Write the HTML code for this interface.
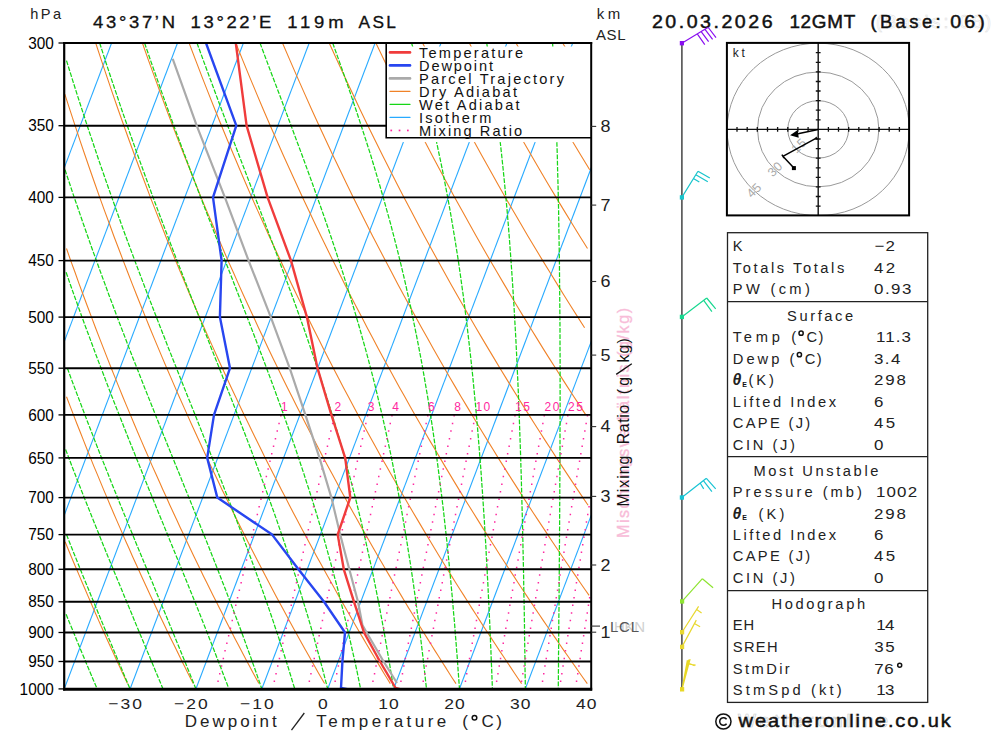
<!DOCTYPE html>
<html><head><meta charset="utf-8"><title>Skew-T</title>
<style>
html,body{margin:0;padding:0;background:#fff;}
body{width:1000px;height:733px;overflow:hidden;font-family:"Liberation Sans",sans-serif;}
svg{display:block;font-family:"Liberation Sans",sans-serif;}
</style></head><body>
<svg width="1000" height="733" viewBox="0 0 1000 733">
<rect width="1000" height="733" fill="#fff"/>
<defs><clipPath id="cp"><rect x="64.2" y="43.0" width="527.0" height="646.0"/></clipPath></defs>
<g clip-path="url(#cp)">
<polyline points="-462.8,689.0 -217.8,43.0" fill="none" stroke="#28aaff" stroke-width="1.1" />
<polyline points="-396.9,689.0 -151.9,43.0" fill="none" stroke="#28aaff" stroke-width="1.1" />
<polyline points="-331.1,689.0 -86.0,43.0" fill="none" stroke="#28aaff" stroke-width="1.1" />
<polyline points="-265.2,689.0 -20.1,43.0" fill="none" stroke="#28aaff" stroke-width="1.1" />
<polyline points="-199.3,689.0 45.7,43.0" fill="none" stroke="#28aaff" stroke-width="1.1" />
<polyline points="-133.4,689.0 111.6,43.0" fill="none" stroke="#28aaff" stroke-width="1.1" />
<polyline points="-67.5,689.0 177.5,43.0" fill="none" stroke="#28aaff" stroke-width="1.1" />
<polyline points="-1.7,689.0 243.4,43.0" fill="none" stroke="#28aaff" stroke-width="1.1" />
<polyline points="64.2,689.0 309.2,43.0" fill="none" stroke="#28aaff" stroke-width="1.1" />
<polyline points="130.1,689.0 375.1,43.0" fill="none" stroke="#28aaff" stroke-width="1.1" />
<polyline points="195.9,689.0 441.0,43.0" fill="none" stroke="#28aaff" stroke-width="1.1" />
<polyline points="261.8,689.0 506.9,43.0" fill="none" stroke="#28aaff" stroke-width="1.1" />
<polyline points="327.7,689.0 572.7,43.0" fill="none" stroke="#28aaff" stroke-width="1.1" />
<polyline points="393.6,689.0 638.6,43.0" fill="none" stroke="#28aaff" stroke-width="1.1" />
<polyline points="459.4,689.0 704.5,43.0" fill="none" stroke="#28aaff" stroke-width="1.1" />
<polyline points="525.3,689.0 770.4,43.0" fill="none" stroke="#28aaff" stroke-width="1.1" />
<polyline points="591.2,689.0 836.2,43.0" fill="none" stroke="#28aaff" stroke-width="1.1" />
<polyline points="65.1,541.7 68.0,548.8 70.9,555.7 73.7,562.5 76.6,569.3 79.4,575.9 82.2,582.5 85.0,589.0 87.7,595.4 90.5,601.8 93.2,608.1 95.9,614.3 98.6,620.4 101.3,626.5 104.0,632.5 106.7,638.4 109.3,644.3 112.0,650.1 114.6,655.8 117.2,661.5 119.8,667.1 122.4,672.7 125.0,678.2 127.5,683.6" fill="none" stroke="#f08228" stroke-width="1.1" />
<polyline points="66.5,396.7 70.0,405.9 73.5,414.9 76.9,423.8 80.4,432.5 83.8,441.1 87.1,449.5 90.5,457.9 93.8,466.1 97.2,474.1 100.5,482.1 103.7,489.9 107.0,497.6 110.2,505.2 113.4,512.7 116.6,520.1 119.8,527.4 122.9,534.6 126.0,541.7 129.2,548.8 132.2,555.7 135.3,562.5 138.4,569.3 141.4,575.9 144.4,582.5 147.4,589.0 150.4,595.4 153.4,601.8 156.3,608.1 159.2,614.3 162.2,620.4 165.1,626.5 167.9,632.5 170.8,638.4 173.7,644.3 176.5,650.1 179.3,655.8 182.1,661.5 184.9,667.1 187.7,672.7 190.5,678.2 193.2,683.6" fill="none" stroke="#f08228" stroke-width="1.1" />
<polyline points="66.5,248.5 70.7,260.6 75.0,272.3 79.1,283.9 83.3,295.2 87.4,306.2 91.5,317.1 95.5,327.7 99.5,338.1 103.5,348.4 107.4,358.4 111.3,368.2 115.2,377.9 119.0,387.4 122.8,396.7 126.6,405.9 130.4,414.9 134.1,423.8 137.8,432.5 141.5,441.1 145.1,449.5 148.8,457.9 152.3,466.1 155.9,474.1 159.5,482.1 163.0,489.9 166.5,497.6 169.9,505.2 173.4,512.7 176.8,520.1 180.2,527.4 183.6,534.6 187.0,541.7 190.3,548.8 193.6,555.7 196.9,562.5 200.2,569.3 203.4,575.9 206.7,582.5 209.9,589.0 213.1,595.4 216.3,601.8 219.4,608.1 222.6,614.3 225.7,620.4 228.8,626.5 231.9,632.5 234.9,638.4 238.0,644.3 241.0,650.1 244.0,655.8 247.0,661.5 250.0,667.1 253.0,672.7 256.0,678.2 258.9,683.6" fill="none" stroke="#f08228" stroke-width="1.1" />
<polyline points="64.8,94.1 70.0,110.2 75.1,125.7 80.1,140.8 85.1,155.5 90.0,169.8 94.9,183.8 99.7,197.4 104.5,210.6 109.3,223.5 113.9,236.2 118.6,248.5 123.2,260.6 127.7,272.3 132.2,283.9 136.7,295.2 141.1,306.2 145.5,317.1 149.8,327.7 154.1,338.1 158.4,348.4 162.6,358.4 166.8,368.2 171.0,377.9 175.1,387.4 179.2,396.7 183.3,405.9 187.3,414.9 191.3,423.8 195.3,432.5 199.2,441.1 203.1,449.5 207.0,457.9 210.8,466.1 214.7,474.1 218.5,482.1 222.2,489.9 226.0,497.6 229.7,505.2 233.4,512.7 237.0,520.1 240.7,527.4 244.3,534.6 247.9,541.7 251.4,548.8 255.0,555.7 258.5,562.5 262.0,569.3 265.5,575.9 268.9,582.5 272.3,589.0 275.7,595.4 279.1,601.8 282.5,608.1 285.9,614.3 289.2,620.4 292.5,626.5 295.8,632.5 299.1,638.4 302.3,644.3 305.5,650.1 308.8,655.8 312.0,661.5 315.1,667.1 318.3,672.7 321.5,678.2 324.6,683.6" fill="none" stroke="#f08228" stroke-width="1.1" />
<polyline points="95.7,43.0 101.5,60.6 107.2,77.6 112.8,94.1 118.4,110.2 123.9,125.7 129.3,140.8 134.7,155.5 140.0,169.8 145.3,183.8 150.4,197.4 155.6,210.6 160.7,223.5 165.7,236.2 170.7,248.5 175.6,260.6 180.5,272.3 185.3,283.9 190.1,295.2 194.8,306.2 199.5,317.1 204.2,327.7 208.8,338.1 213.4,348.4 217.9,358.4 222.4,368.2 226.8,377.9 231.2,387.4 235.6,396.7 239.9,405.9 244.2,414.9 248.5,423.8 252.7,432.5 256.9,441.1 261.1,449.5 265.2,457.9 269.3,466.1 273.4,474.1 277.5,482.1 281.5,489.9 285.5,497.6 289.4,505.2 293.3,512.7 297.2,520.1 301.1,527.4 304.9,534.6 308.8,541.7 312.6,548.8 316.3,555.7 320.1,562.5 323.8,569.3 327.5,575.9 331.2,582.5 334.8,589.0 338.4,595.4 342.0,601.8 345.6,608.1 349.2,614.3 352.7,620.4 356.2,626.5 359.7,632.5 363.2,638.4 366.6,644.3 370.1,650.1 373.5,655.8 376.9,661.5 380.3,667.1 383.6,672.7 387.0,678.2 390.3,683.6" fill="none" stroke="#f08228" stroke-width="1.1" />
<polyline points="142.4,43.0 148.6,60.6 154.8,77.6 160.8,94.1 166.8,110.2 172.7,125.7 178.5,140.8 184.3,155.5 190.0,169.8 195.6,183.8 201.1,197.4 206.6,210.6 212.1,223.5 217.5,236.2 222.8,248.5 228.0,260.6 233.3,272.3 238.4,283.9 243.5,295.2 248.6,306.2 253.6,317.1 258.5,327.7 263.4,338.1 268.3,348.4 273.1,358.4 277.9,368.2 282.6,377.9 287.3,387.4 292.0,396.7 296.6,405.9 301.2,414.9 305.7,423.8 310.2,432.5 314.7,441.1 319.1,449.5 323.5,457.9 327.8,466.1 332.2,474.1 336.5,482.1 340.7,489.9 344.9,497.6 349.1,505.2 353.3,512.7 357.4,520.1 361.5,527.4 365.6,534.6 369.7,541.7 373.7,548.8 377.7,555.7 381.7,562.5 385.6,569.3 389.5,575.9 393.4,582.5 397.3,589.0 401.1,595.4 404.9,601.8 408.7,608.1 412.5,614.3 416.2,620.4 419.9,626.5 423.6,632.5 427.3,638.4 431.0,644.3 434.6,650.1 438.2,655.8 441.8,661.5 445.4,667.1 448.9,672.7 452.4,678.2 456.0,683.6" fill="none" stroke="#f08228" stroke-width="1.1" />
<polyline points="189.1,43.0 195.8,60.6 202.3,77.6 208.8,94.1 215.2,110.2 221.5,125.7 227.7,140.8 233.9,155.5 239.9,169.8 245.9,183.8 251.8,197.4 257.7,210.6 263.5,223.5 269.2,236.2 274.9,248.5 280.5,260.6 286.0,272.3 291.5,283.9 296.9,295.2 302.3,306.2 307.6,317.1 312.9,327.7 318.1,338.1 323.3,348.4 328.4,358.4 333.4,368.2 338.5,377.9 343.4,387.4 348.4,396.7 353.3,405.9 358.1,414.9 362.9,423.8 367.7,432.5 372.4,441.1 377.1,449.5 381.7,457.9 386.4,466.1 390.9,474.1 395.5,482.1 400.0,489.9 404.4,497.6 408.9,505.2 413.3,512.7 417.7,520.1 422.0,527.4 426.3,534.6 430.6,541.7 434.8,548.8 439.0,555.7 443.2,562.5 447.4,569.3 451.5,575.9 455.6,582.5 459.7,589.0 463.8,595.4 467.8,601.8 471.8,608.1 475.8,614.3 479.7,620.4 483.6,626.5 487.6,632.5 491.4,638.4 495.3,644.3 499.1,650.1 502.9,655.8 506.7,661.5 510.5,667.1 514.2,672.7 517.9,678.2 521.6,683.6" fill="none" stroke="#f08228" stroke-width="1.1" />
<polyline points="235.8,43.0 242.9,60.6 249.9,77.6 256.8,94.1 263.6,110.2 270.3,125.7 276.9,140.8 283.4,155.5 289.9,169.8 296.3,183.8 302.6,197.4 308.8,210.6 314.9,223.5 321.0,236.2 327.0,248.5 332.9,260.6 338.8,272.3 344.6,283.9 350.3,295.2 356.0,306.2 361.7,317.1 367.2,327.7 372.7,338.1 378.2,348.4 383.6,358.4 389.0,368.2 394.3,377.9 399.5,387.4 404.8,396.7 409.9,405.9 415.0,414.9 420.1,423.8 425.1,432.5 430.1,441.1 435.1,449.5 440.0,457.9 444.9,466.1 449.7,474.1 454.5,482.1 459.2,489.9 463.9,497.6 468.6,505.2 473.3,512.7 477.9,520.1 482.4,527.4 487.0,534.6 491.5,541.7 496.0,548.8 500.4,555.7 504.8,562.5 509.2,569.3 513.6,575.9 517.9,582.5 522.2,589.0 526.4,595.4 530.7,601.8 534.9,608.1 539.1,614.3 543.2,620.4 547.4,626.5 551.5,632.5 555.6,638.4 559.6,644.3 563.6,650.1 567.6,655.8 571.6,661.5 575.6,667.1 579.5,672.7 583.4,678.2 587.3,683.6" fill="none" stroke="#f08228" stroke-width="1.1" />
<polyline points="282.5,43.0 290.1,60.6 297.5,77.6 304.8,94.1 312.0,110.2 319.1,125.7 326.1,140.8 333.0,155.5 339.9,169.8 346.6,183.8 353.3,197.4 359.8,210.6 366.3,223.5 372.7,236.2 379.1,248.5 385.4,260.6 391.6,272.3 397.7,283.9 403.8,295.2 409.8,306.2 415.7,317.1 421.6,327.7 427.4,338.1 433.2,348.4 438.9,358.4 444.5,368.2 450.1,377.9 455.6,387.4 461.1,396.7 466.6,405.9 472.0,414.9 477.3,423.8 482.6,432.5 487.9,441.1 493.1,449.5 498.2,457.9 503.4,466.1 508.4,474.1 513.5,482.1 518.5,489.9 523.4,497.6 528.3,505.2 533.2,512.7 538.1,520.1 542.9,527.4 547.7,534.6 552.4,541.7 557.1,548.8 561.8,555.7 566.4,562.5 571.0,569.3 575.6,575.9 580.1,582.5 584.6,589.0 589.1,595.4" fill="none" stroke="#f08228" stroke-width="1.1" />
<polyline points="329.2,43.0 337.2,60.6 345.0,77.6 352.8,94.1 360.4,110.2 367.9,125.7 375.3,140.8 382.6,155.5 389.8,169.8 396.9,183.8 404.0,197.4 410.9,210.6 417.7,223.5 424.5,236.2 431.2,248.5 437.8,260.6 444.3,272.3 450.8,283.9 457.2,295.2 463.5,306.2 469.7,317.1 475.9,327.7 482.0,338.1 488.1,348.4 494.1,358.4 500.0,368.2 505.9,377.9 511.7,387.4 517.5,396.7 523.2,405.9 528.9,414.9 534.5,423.8 540.1,432.5 545.6,441.1 551.1,449.5 556.5,457.9 561.9,466.1 567.2,474.1 572.5,482.1 577.7,489.9 582.9,497.6 588.1,505.2" fill="none" stroke="#f08228" stroke-width="1.1" />
<polyline points="375.9,43.0 384.3,60.6 392.6,77.6 400.8,94.1 408.8,110.2 416.7,125.7 424.5,140.8 432.2,155.5 439.8,169.8 447.3,183.8 454.7,197.4 462.0,210.6 469.2,223.5 476.3,236.2 483.3,248.5 490.2,260.6 497.1,272.3 503.9,283.9 510.6,295.2 517.2,306.2 523.8,317.1 530.3,327.7 536.7,338.1 543.0,348.4 549.3,358.4 555.6,368.2 561.7,377.9 567.8,387.4 573.9,396.7 579.9,405.9 585.8,414.9" fill="none" stroke="#f08228" stroke-width="1.1" />
<polyline points="422.6,43.0 431.5,60.6 440.2,77.6 448.8,94.1 457.2,110.2 465.5,125.7 473.7,140.8 481.8,155.5 489.8,169.8 497.6,183.8 505.4,197.4 513.0,210.6 520.6,223.5 528.0,236.2 535.4,248.5 542.7,260.6 549.9,272.3 557.0,283.9 564.0,295.2 570.9,306.2 577.8,317.1 584.6,327.7" fill="none" stroke="#f08228" stroke-width="1.1" />
<polyline points="469.3,43.0 478.6,60.6 487.8,77.6 496.7,94.1 505.6,110.2 514.3,125.7 522.9,140.8 531.4,155.5 539.7,169.8 547.9,183.8 556.1,197.4 564.1,210.6 572.0,223.5 579.8,236.2 587.5,248.5" fill="none" stroke="#f08228" stroke-width="1.1" />
<polyline points="516.0,43.0 525.8,60.6 535.3,77.6 544.7,94.1 554.0,110.2 563.1,125.7 572.1,140.8 581.0,155.5 589.7,169.8" fill="none" stroke="#f08228" stroke-width="1.1" />
<polyline points="562.7,43.0 572.9,60.6 582.9,77.6" fill="none" stroke="#f08228" stroke-width="1.1" />
<polyline points="66.1,614.3 68.6,620.4 71.1,626.5 73.6,632.5 76.0,638.4 78.4,644.3 80.8,650.1 83.2,655.8 85.6,661.5 87.9,667.1 90.3,672.7 92.6,678.2 94.9,683.6 97.1,689.0" fill="none" stroke="#16d616" stroke-width="1.25" stroke-dasharray="4.7 1.5"/>
<polyline points="66.5,534.6 69.3,541.7 72.1,548.8 74.9,555.7 77.6,562.5 80.3,569.3 83.0,575.9 85.7,582.5 88.4,589.0 91.0,595.4 93.6,601.8 96.2,608.1 98.8,614.3 101.3,620.4 103.8,626.5 106.3,632.5 108.8,638.4 111.3,644.3 113.7,650.1 116.1,655.8 118.5,661.5 120.9,667.1 123.2,672.7 125.5,678.2 127.8,683.6 130.1,689.0" fill="none" stroke="#16d616" stroke-width="1.25" stroke-dasharray="4.7 1.5"/>
<polyline points="65.6,449.5 68.8,457.9 71.9,466.1 75.0,474.1 78.1,482.1 81.2,489.9 84.2,497.6 87.3,505.2 90.3,512.7 93.2,520.1 96.2,527.4 99.1,534.6 101.9,541.7 104.8,548.8 107.6,555.7 110.4,562.5 113.2,569.3 115.9,575.9 118.7,582.5 121.4,589.0 124.0,595.4 126.7,601.8 129.3,608.1 131.9,614.3 134.4,620.4 136.9,626.5 139.4,632.5 141.9,638.4 144.4,644.3 146.8,650.1 149.2,655.8 151.6,661.5 153.9,667.1 156.2,672.7 158.5,678.2 160.8,683.6 163.0,689.0" fill="none" stroke="#16d616" stroke-width="1.25" stroke-dasharray="4.7 1.5"/>
<polyline points="67.4,368.2 70.9,377.9 74.5,387.4 78.0,396.7 81.5,405.9 84.9,414.9 88.3,423.8 91.7,432.5 95.0,441.1 98.3,449.5 101.6,457.9 104.9,466.1 108.1,474.1 111.2,482.1 114.4,489.9 117.5,497.6 120.6,505.2 123.6,512.7 126.7,520.1 129.6,527.4 132.6,534.6 135.5,541.7 138.4,548.8 141.3,555.7 144.1,562.5 146.9,569.3 149.6,575.9 152.4,582.5 155.0,589.0 157.7,595.4 160.3,601.8 162.9,608.1 165.5,614.3 168.0,620.4 170.5,626.5 173.0,632.5 175.4,638.4 177.8,644.3 180.2,650.1 182.5,655.8 184.9,661.5 187.1,667.1 189.4,672.7 191.6,678.2 193.8,683.6 195.9,689.0" fill="none" stroke="#16d616" stroke-width="1.25" stroke-dasharray="4.7 1.5"/>
<polyline points="66.1,272.3 70.1,283.9 74.1,295.2 78.1,306.2 82.0,317.1 85.9,327.7 89.8,338.1 93.6,348.4 97.3,358.4 101.1,368.2 104.8,377.9 108.4,387.4 112.0,396.7 115.6,405.9 119.2,414.9 122.7,423.8 126.1,432.5 129.5,441.1 132.9,449.5 136.3,457.9 139.6,466.1 142.8,474.1 146.0,482.1 149.2,489.9 152.4,497.6 155.5,505.2 158.5,512.7 161.6,520.1 164.6,527.4 167.5,534.6 170.4,541.7 173.3,548.8 176.1,555.7 178.9,562.5 181.7,569.3 184.4,575.9 187.1,582.5 189.7,589.0 192.3,595.4 194.9,601.8 197.4,608.1 199.9,614.3 202.3,620.4 204.7,626.5 207.1,632.5 209.4,638.4 211.7,644.3 214.0,650.1 216.2,655.8 218.4,661.5 220.6,667.1 222.7,672.7 224.8,678.2 226.9,683.6 228.9,689.0" fill="none" stroke="#16d616" stroke-width="1.25" stroke-dasharray="4.7 1.5"/>
<polyline points="65.0,169.8 69.7,183.8 74.2,197.4 78.8,210.6 83.2,223.5 87.7,236.2 92.0,248.5 96.4,260.6 100.6,272.3 104.9,283.9 109.0,295.2 113.2,306.2 117.2,317.1 121.3,327.7 125.3,338.1 129.2,348.4 133.1,358.4 137.0,368.2 140.8,377.9 144.5,387.4 148.2,396.7 151.9,405.9 155.5,414.9 159.0,423.8 162.5,432.5 166.0,441.1 169.4,449.5 172.8,457.9 176.1,466.1 179.4,474.1 182.6,482.1 185.8,489.9 188.9,497.6 192.0,505.2 195.0,512.7 198.0,520.1 200.9,527.4 203.8,534.6 206.7,541.7 209.5,548.8 212.2,555.7 214.9,562.5 217.6,569.3 220.2,575.9 222.7,582.5 225.3,589.0 227.7,595.4 230.2,601.8 232.6,608.1 234.9,614.3 237.2,620.4 239.5,626.5 241.7,632.5 243.9,638.4 246.0,644.3 248.1,650.1 250.2,655.8 252.2,661.5 254.2,667.1 256.2,672.7 258.1,678.2 260.0,683.6 261.8,689.0" fill="none" stroke="#16d616" stroke-width="1.25" stroke-dasharray="4.7 1.5"/>
<polyline points="66.5,60.6 71.8,77.6 77.0,94.1 82.2,110.2 87.2,125.7 92.3,140.8 97.2,155.5 102.1,169.8 107.0,183.8 111.8,197.4 116.5,210.6 121.1,223.5 125.7,236.2 130.3,248.5 134.8,260.6 139.2,272.3 143.6,283.9 147.9,295.2 152.2,306.2 156.4,317.1 160.5,327.7 164.6,338.1 168.6,348.4 172.6,358.4 176.5,368.2 180.3,377.9 184.1,387.4 187.8,396.7 191.5,405.9 195.1,414.9 198.6,423.8 202.1,432.5 205.5,441.1 208.9,449.5 212.2,457.9 215.5,466.1 218.6,474.1 221.8,482.1 224.8,489.9 227.9,497.6 230.8,505.2 233.7,512.7 236.5,520.1 239.3,527.4 242.1,534.6 244.7,541.7 247.4,548.8 249.9,555.7 252.4,562.5 254.9,569.3 257.3,575.9 259.7,582.5 262.0,589.0 264.3,595.4 266.5,601.8 268.7,608.1 270.8,614.3 272.9,620.4 274.9,626.5 276.9,632.5 278.9,638.4 280.8,644.3 282.7,650.1 284.5,655.8 286.3,661.5 288.1,667.1 289.8,672.7 291.5,678.2 293.1,683.6 294.8,689.0" fill="none" stroke="#16d616" stroke-width="1.25" stroke-dasharray="4.7 1.5"/>
<polyline points="99.7,43.0 105.3,60.6 110.9,77.6 116.5,94.1 121.9,110.2 127.3,125.7 132.6,140.8 137.8,155.5 143.0,169.8 148.1,183.8 153.1,197.4 158.0,210.6 162.9,223.5 167.7,236.2 172.4,248.5 177.0,260.6 181.6,272.3 186.1,283.9 190.5,295.2 194.8,306.2 199.1,317.1 203.3,327.7 207.4,338.1 211.4,348.4 215.4,358.4 219.3,368.2 223.1,377.9 226.8,387.4 230.5,396.7 234.1,405.9 237.6,414.9 241.0,423.8 244.4,432.5 247.7,441.1 250.9,449.5 254.0,457.9 257.1,466.1 260.1,474.1 263.0,482.1 265.9,489.9 268.7,497.6 271.4,505.2 274.1,512.7 276.7,520.1 279.2,527.4 281.7,534.6 284.1,541.7 286.5,548.8 288.8,555.7 291.0,562.5 293.2,569.3 295.4,575.9 297.5,582.5 299.5,589.0 301.5,595.4 303.4,601.8 305.3,608.1 307.2,614.3 309.0,620.4 310.8,626.5 312.5,632.5 314.2,638.4 315.8,644.3 317.4,650.1 319.0,655.8 320.5,661.5 322.0,667.1 323.5,672.7 324.9,678.2 326.3,683.6 327.7,689.0" fill="none" stroke="#16d616" stroke-width="1.25" stroke-dasharray="4.7 1.5"/>
<polyline points="144.6,43.0 150.6,60.6 156.6,77.6 162.4,94.1 168.2,110.2 173.8,125.7 179.4,140.8 184.9,155.5 190.2,169.8 195.5,183.8 200.7,197.4 205.8,210.6 210.8,223.5 215.7,236.2 220.4,248.5 225.1,260.6 229.7,272.3 234.2,283.9 238.6,295.2 242.9,306.2 247.1,317.1 251.2,327.7 255.2,338.1 259.1,348.4 262.9,358.4 266.6,368.2 270.2,377.9 273.7,387.4 277.1,396.7 280.4,405.9 283.7,414.9 286.8,423.8 289.9,432.5 292.9,441.1 295.8,449.5 298.6,457.9 301.3,466.1 304.0,474.1 306.5,482.1 309.1,489.9 311.5,497.6 313.9,505.2 316.2,512.7 318.4,520.1 320.6,527.4 322.7,534.6 324.8,541.7 326.8,548.8 328.7,555.7 330.6,562.5 332.4,569.3 334.2,575.9 336.0,582.5 337.7,589.0 339.3,595.4 340.9,601.8 342.5,608.1 344.0,614.3 345.5,620.4 346.9,626.5 348.3,632.5 349.7,638.4 351.0,644.3 352.3,650.1 353.6,655.8 354.9,661.5 356.1,667.1 357.3,672.7 358.4,678.2 359.5,683.6 360.6,689.0" fill="none" stroke="#16d616" stroke-width="1.25" stroke-dasharray="4.7 1.5"/>
<polyline points="197.0,43.0 203.4,60.6 209.7,77.6 215.8,94.1 221.8,110.2 227.7,125.7 233.5,140.8 239.1,155.5 244.6,169.8 249.9,183.8 255.1,197.4 260.2,210.6 265.1,223.5 269.9,236.2 274.6,248.5 279.1,260.6 283.5,272.3 287.8,283.9 291.9,295.2 295.9,306.2 299.8,317.1 303.6,327.7 307.2,338.1 310.7,348.4 314.1,358.4 317.4,368.2 320.6,377.9 323.6,387.4 326.6,396.7 329.4,405.9 332.2,414.9 334.9,423.8 337.5,432.5 340.0,441.1 342.4,449.5 344.7,457.9 347.0,466.1 349.1,474.1 351.2,482.1 353.3,489.9 355.3,497.6 357.2,505.2 359.0,512.7 360.8,520.1 362.5,527.4 364.2,534.6 365.8,541.7 367.4,548.8 368.9,555.7 370.4,562.5 371.9,569.3 373.3,575.9 374.6,582.5 375.9,589.0 377.2,595.4 378.5,601.8 379.7,608.1 380.8,614.3 382.0,620.4 383.1,626.5 384.2,632.5 385.2,638.4 386.2,644.3 387.2,650.1 388.2,655.8 389.2,661.5 390.1,667.1 391.0,672.7 391.9,678.2 392.7,683.6 393.6,689.0" fill="none" stroke="#16d616" stroke-width="1.25" stroke-dasharray="4.7 1.5"/>
<polyline points="260.0,43.0 266.6,60.6 273.0,77.6 279.3,94.1 285.3,110.2 291.1,125.7 296.7,140.8 302.2,155.5 307.4,169.8 312.5,183.8 317.3,197.4 322.0,210.6 326.5,223.5 330.8,236.2 334.9,248.5 338.9,260.6 342.7,272.3 346.3,283.9 349.8,295.2 353.2,306.2 356.4,317.1 359.5,327.7 362.4,338.1 365.3,348.4 368.0,358.4 370.6,368.2 373.1,377.9 375.5,387.4 377.7,396.7 379.9,405.9 382.1,414.9 384.1,423.8 386.0,432.5 387.9,441.1 389.7,449.5 391.5,457.9 393.1,466.1 394.7,474.1 396.3,482.1 397.8,489.9 399.2,497.6 400.6,505.2 402.0,512.7 403.2,520.1 404.5,527.4 405.7,534.6 406.9,541.7 408.0,548.8 409.1,555.7 410.2,562.5 411.2,569.3 412.2,575.9 413.2,582.5 414.1,589.0 415.0,595.4 415.9,601.8 416.7,608.1 417.6,614.3 418.4,620.4 419.1,626.5 419.9,632.5 420.7,638.4 421.4,644.3 422.1,650.1 422.8,655.8 423.4,661.5 424.1,667.1 424.7,672.7 425.3,678.2 425.9,683.6 426.5,689.0" fill="none" stroke="#16d616" stroke-width="1.25" stroke-dasharray="4.7 1.5"/>
<polyline points="332.7,43.0 339.0,60.6 345.0,77.6 350.7,94.1 356.1,110.2 361.2,125.7 366.1,140.8 370.8,155.5 375.1,169.8 379.3,183.8 383.2,197.4 386.9,210.6 390.5,223.5 393.8,236.2 397.0,248.5 400.0,260.6 402.8,272.3 405.5,283.9 408.0,295.2 410.5,306.2 412.7,317.1 414.9,327.7 417.0,338.1 419.0,348.4 420.9,358.4 422.7,368.2 424.4,377.9 426.0,387.4 427.6,396.7 429.1,405.9 430.5,414.9 431.9,423.8 433.2,432.5 434.4,441.1 435.6,449.5 436.8,457.9 437.9,466.1 438.9,474.1 439.9,482.1 440.9,489.9 441.9,497.6 442.8,505.2 443.7,512.7 444.5,520.1 445.3,527.4 446.1,534.6 446.9,541.7 447.6,548.8 448.3,555.7 449.0,562.5 449.6,569.3 450.3,575.9 450.9,582.5 451.5,589.0 452.1,595.4 452.7,601.8 453.2,608.1 453.7,614.3 454.3,620.4 454.8,626.5 455.2,632.5 455.7,638.4 456.2,644.3 456.6,650.1 457.1,655.8 457.5,661.5 457.9,667.1 458.3,672.7 458.7,678.2 459.1,683.6 459.5,689.0" fill="none" stroke="#16d616" stroke-width="1.25" stroke-dasharray="4.7 1.5"/>
<polyline points="411.6,43.0 416.5,60.6 421.1,77.6 425.3,94.1 429.2,110.2 432.9,125.7 436.3,140.8 439.4,155.5 442.4,169.8 445.1,183.8 447.7,197.4 450.1,210.6 452.3,223.5 454.4,236.2 456.4,248.5 458.3,260.6 460.0,272.3 461.6,283.9 463.2,295.2 464.6,306.2 466.0,317.1 467.3,327.7 468.5,338.1 469.7,348.4 470.8,358.4 471.9,368.2 472.9,377.9 473.8,387.4 474.7,396.7 475.6,405.9 476.4,414.9 477.2,423.8 477.9,432.5 478.6,441.1 479.3,449.5 479.9,457.9 480.6,466.1 481.2,474.1 481.7,482.1 482.3,489.9 482.8,497.6 483.3,505.2 483.8,512.7 484.3,520.1 484.7,527.4 485.1,534.6 485.6,541.7 486.0,548.8 486.3,555.7 486.7,562.5 487.1,569.3 487.4,575.9 487.8,582.5 488.1,589.0 488.4,595.4 488.7,601.8 489.0,608.1 489.3,614.3 489.6,620.4 489.9,626.5 490.1,632.5 490.4,638.4 490.6,644.3 490.9,650.1 491.1,655.8 491.3,661.5 491.6,667.1 491.8,672.7 492.0,678.2 492.2,683.6 492.4,689.0" fill="none" stroke="#16d616" stroke-width="1.25" stroke-dasharray="4.7 1.5"/>
<polyline points="486.7,43.0 489.4,60.6 492.0,77.6 494.3,94.1 496.4,110.2 498.3,125.7 500.1,140.8 501.7,155.5 503.2,169.8 504.6,183.8 505.9,197.4 507.1,210.6 508.2,223.5 509.2,236.2 510.1,248.5 511.0,260.6 511.8,272.3 512.6,283.9 513.3,295.2 514.0,306.2 514.6,317.1 515.2,327.7 515.8,338.1 516.3,348.4 516.8,358.4 517.2,368.2 517.7,377.9 518.1,387.4 518.5,396.7 518.8,405.9 519.2,414.9 519.5,423.8 519.8,432.5 520.1,441.1 520.4,449.5 520.7,457.9 520.9,466.1 521.2,474.1 521.4,482.1 521.6,489.9 521.8,497.6 522.0,505.2 522.2,512.7 522.4,520.1 522.6,527.4 522.7,534.6 522.9,541.7 523.0,548.8 523.2,555.7 523.3,562.5 523.5,569.3 523.6,575.9 523.7,582.5 523.8,589.0 523.9,595.4 524.1,601.8 524.2,608.1 524.3,614.3 524.4,620.4 524.5,626.5 524.5,632.5 524.6,638.4 524.7,644.3 524.8,650.1 524.9,655.8 525.0,661.5 525.0,667.1 525.1,672.7 525.2,678.2 525.3,683.6 525.3,689.0" fill="none" stroke="#16d616" stroke-width="1.25" stroke-dasharray="4.7 1.5"/>
<polyline points="552.6,43.0 553.5,60.6 554.3,77.6 555.1,94.1 555.7,110.2 556.3,125.7 556.8,140.8 557.3,155.5 557.6,169.8 558.0,183.8 558.3,197.4 558.6,210.6 558.8,223.5 559.0,236.2 559.2,248.5 559.4,260.6 559.5,272.3 559.6,283.9 559.7,295.2 559.8,306.2 559.9,317.1 560.0,327.7 560.0,338.1 560.0,348.4 560.1,358.4 560.1,368.2 560.1,377.9 560.1,387.4 560.1,396.7 560.1,405.9 560.1,414.9 560.1,423.8 560.0,432.5 560.0,441.1 560.0,449.5 560.0,457.9 559.9,466.1 559.9,474.1 559.8,482.1 559.8,489.9 559.8,497.6 559.7,505.2 559.7,512.7 559.6,520.1 559.6,527.4 559.5,534.6 559.5,541.7 559.4,548.8 559.4,555.7 559.3,562.5 559.3,569.3 559.2,575.9 559.2,582.5 559.1,589.0 559.1,595.4 559.0,601.8 559.0,608.1 558.9,614.3 558.8,620.4 558.8,626.5 558.7,632.5 558.7,638.4 558.6,644.3 558.6,650.1 558.5,655.8 558.5,661.5 558.5,667.1 558.4,672.7 558.4,678.2 558.3,683.6 558.3,689.0" fill="none" stroke="#16d616" stroke-width="1.25" stroke-dasharray="4.7 1.5"/>
<path d="M280.1,415.1h1.5v1.5h-1.5zM278.3,422.7h1.5v1.5h-1.5zM276.5,430.3h1.5v1.5h-1.5zM274.7,437.9h1.5v1.5h-1.5zM272.8,445.5h1.5v1.5h-1.5zM271.0,453.0h1.5v1.5h-1.5zM269.2,460.6h1.5v1.5h-1.5zM267.4,468.2h1.5v1.5h-1.5zM265.6,475.8h1.5v1.5h-1.5zM263.8,483.4h1.5v1.5h-1.5zM262.0,490.9h1.5v1.5h-1.5zM260.2,498.5h1.5v1.5h-1.5zM258.4,506.1h1.5v1.5h-1.5zM256.6,513.7h1.5v1.5h-1.5zM254.7,521.3h1.5v1.5h-1.5zM252.9,528.9h1.5v1.5h-1.5zM251.1,536.4h1.5v1.5h-1.5zM249.3,544.0h1.5v1.5h-1.5zM247.6,551.6h1.5v1.5h-1.5zM245.8,559.2h1.5v1.5h-1.5zM244.0,566.8h1.5v1.5h-1.5zM242.2,574.3h1.5v1.5h-1.5zM240.4,581.9h1.5v1.5h-1.5zM238.6,589.5h1.5v1.5h-1.5zM236.8,597.1h1.5v1.5h-1.5zM235.0,604.6h1.5v1.5h-1.5zM233.2,612.2h1.5v1.5h-1.5zM231.5,619.8h1.5v1.5h-1.5zM229.7,627.4h1.5v1.5h-1.5zM227.9,635.0h1.5v1.5h-1.5zM226.1,642.5h1.5v1.5h-1.5zM224.3,650.1h1.5v1.5h-1.5zM222.6,657.7h1.5v1.5h-1.5zM220.8,665.3h1.5v1.5h-1.5zM219.0,672.9h1.5v1.5h-1.5zM217.3,680.5h1.5v1.5h-1.5zM333.6,415.1h1.5v1.5h-1.5zM331.9,422.7h1.5v1.5h-1.5zM330.1,430.3h1.5v1.5h-1.5zM328.4,437.9h1.5v1.5h-1.5zM326.7,445.5h1.5v1.5h-1.5zM324.9,453.0h1.5v1.5h-1.5zM323.2,460.6h1.5v1.5h-1.5zM321.4,468.2h1.5v1.5h-1.5zM319.7,475.8h1.5v1.5h-1.5zM318.0,483.4h1.5v1.5h-1.5zM316.3,490.9h1.5v1.5h-1.5zM314.5,498.5h1.5v1.5h-1.5zM312.8,506.1h1.5v1.5h-1.5zM311.1,513.7h1.5v1.5h-1.5zM309.4,521.3h1.5v1.5h-1.5zM307.6,528.9h1.5v1.5h-1.5zM305.9,536.4h1.5v1.5h-1.5zM304.2,544.0h1.5v1.5h-1.5zM302.5,551.6h1.5v1.5h-1.5zM300.8,559.2h1.5v1.5h-1.5zM299.1,566.8h1.5v1.5h-1.5zM297.4,574.3h1.5v1.5h-1.5zM295.7,581.9h1.5v1.5h-1.5zM293.9,589.5h1.5v1.5h-1.5zM292.2,597.1h1.5v1.5h-1.5zM290.5,604.6h1.5v1.5h-1.5zM288.8,612.2h1.5v1.5h-1.5zM287.1,619.8h1.5v1.5h-1.5zM285.4,627.4h1.5v1.5h-1.5zM283.8,635.0h1.5v1.5h-1.5zM282.1,642.5h1.5v1.5h-1.5zM280.4,650.1h1.5v1.5h-1.5zM278.7,657.7h1.5v1.5h-1.5zM277.0,665.3h1.5v1.5h-1.5zM275.3,672.9h1.5v1.5h-1.5zM273.6,680.5h1.5v1.5h-1.5zM366.8,415.1h1.5v1.5h-1.5zM365.1,422.7h1.5v1.5h-1.5zM363.4,430.3h1.5v1.5h-1.5zM361.7,437.9h1.5v1.5h-1.5zM360.0,445.5h1.5v1.5h-1.5zM358.3,453.0h1.5v1.5h-1.5zM356.6,460.6h1.5v1.5h-1.5zM355.0,468.2h1.5v1.5h-1.5zM353.3,475.8h1.5v1.5h-1.5zM351.6,483.4h1.5v1.5h-1.5zM349.9,490.9h1.5v1.5h-1.5zM348.2,498.5h1.5v1.5h-1.5zM346.6,506.1h1.5v1.5h-1.5zM344.9,513.7h1.5v1.5h-1.5zM343.2,521.3h1.5v1.5h-1.5zM341.6,528.9h1.5v1.5h-1.5zM339.9,536.4h1.5v1.5h-1.5zM338.2,544.0h1.5v1.5h-1.5zM336.6,551.6h1.5v1.5h-1.5zM334.9,559.2h1.5v1.5h-1.5zM333.3,566.8h1.5v1.5h-1.5zM331.6,574.3h1.5v1.5h-1.5zM329.9,581.9h1.5v1.5h-1.5zM328.3,589.5h1.5v1.5h-1.5zM326.6,597.1h1.5v1.5h-1.5zM325.0,604.6h1.5v1.5h-1.5zM323.3,612.2h1.5v1.5h-1.5zM321.7,619.8h1.5v1.5h-1.5zM320.1,627.4h1.5v1.5h-1.5zM318.4,635.0h1.5v1.5h-1.5zM316.8,642.5h1.5v1.5h-1.5zM315.1,650.1h1.5v1.5h-1.5zM313.5,657.7h1.5v1.5h-1.5zM311.9,665.3h1.5v1.5h-1.5zM310.2,672.9h1.5v1.5h-1.5zM308.6,680.5h1.5v1.5h-1.5zM391.2,415.1h1.5v1.5h-1.5zM389.5,422.7h1.5v1.5h-1.5zM387.9,430.3h1.5v1.5h-1.5zM386.2,437.9h1.5v1.5h-1.5zM384.6,445.5h1.5v1.5h-1.5zM382.9,453.0h1.5v1.5h-1.5zM381.3,460.6h1.5v1.5h-1.5zM379.6,468.2h1.5v1.5h-1.5zM378.0,475.8h1.5v1.5h-1.5zM376.4,483.4h1.5v1.5h-1.5zM374.7,490.9h1.5v1.5h-1.5zM373.1,498.5h1.5v1.5h-1.5zM371.5,506.1h1.5v1.5h-1.5zM369.8,513.7h1.5v1.5h-1.5zM368.2,521.3h1.5v1.5h-1.5zM366.6,528.9h1.5v1.5h-1.5zM364.9,536.4h1.5v1.5h-1.5zM363.3,544.0h1.5v1.5h-1.5zM361.7,551.6h1.5v1.5h-1.5zM360.1,559.2h1.5v1.5h-1.5zM358.5,566.8h1.5v1.5h-1.5zM356.8,574.3h1.5v1.5h-1.5zM355.2,581.9h1.5v1.5h-1.5zM353.6,589.5h1.5v1.5h-1.5zM352.0,597.1h1.5v1.5h-1.5zM350.4,604.6h1.5v1.5h-1.5zM348.8,612.2h1.5v1.5h-1.5zM347.2,619.8h1.5v1.5h-1.5zM345.6,627.4h1.5v1.5h-1.5zM344.0,635.0h1.5v1.5h-1.5zM342.4,642.5h1.5v1.5h-1.5zM340.8,650.1h1.5v1.5h-1.5zM339.2,657.7h1.5v1.5h-1.5zM337.6,665.3h1.5v1.5h-1.5zM336.0,672.9h1.5v1.5h-1.5zM334.4,680.5h1.5v1.5h-1.5zM427.0,415.1h1.5v1.5h-1.5zM425.4,422.7h1.5v1.5h-1.5zM423.8,430.3h1.5v1.5h-1.5zM422.2,437.9h1.5v1.5h-1.5zM420.6,445.5h1.5v1.5h-1.5zM419.0,453.0h1.5v1.5h-1.5zM417.4,460.6h1.5v1.5h-1.5zM415.8,468.2h1.5v1.5h-1.5zM414.2,475.8h1.5v1.5h-1.5zM412.7,483.4h1.5v1.5h-1.5zM411.1,490.9h1.5v1.5h-1.5zM409.5,498.5h1.5v1.5h-1.5zM407.9,506.1h1.5v1.5h-1.5zM406.3,513.7h1.5v1.5h-1.5zM404.8,521.3h1.5v1.5h-1.5zM403.2,528.9h1.5v1.5h-1.5zM401.6,536.4h1.5v1.5h-1.5zM400.1,544.0h1.5v1.5h-1.5zM398.5,551.6h1.5v1.5h-1.5zM396.9,559.2h1.5v1.5h-1.5zM395.4,566.8h1.5v1.5h-1.5zM393.8,574.3h1.5v1.5h-1.5zM392.3,581.9h1.5v1.5h-1.5zM390.7,589.5h1.5v1.5h-1.5zM389.2,597.1h1.5v1.5h-1.5zM387.6,604.6h1.5v1.5h-1.5zM386.1,612.2h1.5v1.5h-1.5zM384.5,619.8h1.5v1.5h-1.5zM383.0,627.4h1.5v1.5h-1.5zM381.4,635.0h1.5v1.5h-1.5zM379.9,642.5h1.5v1.5h-1.5zM378.4,650.1h1.5v1.5h-1.5zM376.8,657.7h1.5v1.5h-1.5zM375.3,665.3h1.5v1.5h-1.5zM373.8,672.9h1.5v1.5h-1.5zM372.2,680.5h1.5v1.5h-1.5zM453.4,415.1h1.5v1.5h-1.5zM451.8,422.7h1.5v1.5h-1.5zM450.2,430.3h1.5v1.5h-1.5zM448.7,437.9h1.5v1.5h-1.5zM447.1,445.5h1.5v1.5h-1.5zM445.6,453.0h1.5v1.5h-1.5zM444.1,460.6h1.5v1.5h-1.5zM442.5,468.2h1.5v1.5h-1.5zM441.0,475.8h1.5v1.5h-1.5zM439.4,483.4h1.5v1.5h-1.5zM437.9,490.9h1.5v1.5h-1.5zM436.4,498.5h1.5v1.5h-1.5zM434.8,506.1h1.5v1.5h-1.5zM433.3,513.7h1.5v1.5h-1.5zM431.8,521.3h1.5v1.5h-1.5zM430.2,528.9h1.5v1.5h-1.5zM428.7,536.4h1.5v1.5h-1.5zM427.2,544.0h1.5v1.5h-1.5zM425.7,551.6h1.5v1.5h-1.5zM424.2,559.2h1.5v1.5h-1.5zM422.6,566.8h1.5v1.5h-1.5zM421.1,574.3h1.5v1.5h-1.5zM419.6,581.9h1.5v1.5h-1.5zM418.1,589.5h1.5v1.5h-1.5zM416.6,597.1h1.5v1.5h-1.5zM415.1,604.6h1.5v1.5h-1.5zM413.6,612.2h1.5v1.5h-1.5zM412.1,619.8h1.5v1.5h-1.5zM410.6,627.4h1.5v1.5h-1.5zM409.1,635.0h1.5v1.5h-1.5zM407.6,642.5h1.5v1.5h-1.5zM406.1,650.1h1.5v1.5h-1.5zM404.6,657.7h1.5v1.5h-1.5zM403.1,665.3h1.5v1.5h-1.5zM401.7,672.9h1.5v1.5h-1.5zM400.2,680.5h1.5v1.5h-1.5zM474.4,415.1h1.5v1.5h-1.5zM472.9,422.7h1.5v1.5h-1.5zM471.4,430.3h1.5v1.5h-1.5zM469.9,437.9h1.5v1.5h-1.5zM468.4,445.5h1.5v1.5h-1.5zM466.8,453.0h1.5v1.5h-1.5zM465.3,460.6h1.5v1.5h-1.5zM463.8,468.2h1.5v1.5h-1.5zM462.3,475.8h1.5v1.5h-1.5zM460.8,483.4h1.5v1.5h-1.5zM459.3,490.9h1.5v1.5h-1.5zM457.8,498.5h1.5v1.5h-1.5zM456.3,506.1h1.5v1.5h-1.5zM454.8,513.7h1.5v1.5h-1.5zM453.3,521.3h1.5v1.5h-1.5zM451.8,528.9h1.5v1.5h-1.5zM450.3,536.4h1.5v1.5h-1.5zM448.9,544.0h1.5v1.5h-1.5zM447.4,551.6h1.5v1.5h-1.5zM445.9,559.2h1.5v1.5h-1.5zM444.4,566.8h1.5v1.5h-1.5zM442.9,574.3h1.5v1.5h-1.5zM441.5,581.9h1.5v1.5h-1.5zM440.0,589.5h1.5v1.5h-1.5zM438.5,597.1h1.5v1.5h-1.5zM437.1,604.6h1.5v1.5h-1.5zM435.6,612.2h1.5v1.5h-1.5zM434.1,619.8h1.5v1.5h-1.5zM432.7,627.4h1.5v1.5h-1.5zM431.2,635.0h1.5v1.5h-1.5zM429.8,642.5h1.5v1.5h-1.5zM428.3,650.1h1.5v1.5h-1.5zM426.9,657.7h1.5v1.5h-1.5zM425.4,665.3h1.5v1.5h-1.5zM424.0,672.9h1.5v1.5h-1.5zM422.5,680.5h1.5v1.5h-1.5zM514.2,415.1h1.5v1.5h-1.5zM512.7,422.7h1.5v1.5h-1.5zM511.3,430.3h1.5v1.5h-1.5zM509.8,437.9h1.5v1.5h-1.5zM508.4,445.5h1.5v1.5h-1.5zM506.9,453.0h1.5v1.5h-1.5zM505.5,460.6h1.5v1.5h-1.5zM504.0,468.2h1.5v1.5h-1.5zM502.6,475.8h1.5v1.5h-1.5zM501.1,483.4h1.5v1.5h-1.5zM499.7,490.9h1.5v1.5h-1.5zM498.3,498.5h1.5v1.5h-1.5zM496.8,506.1h1.5v1.5h-1.5zM495.4,513.7h1.5v1.5h-1.5zM494.0,521.3h1.5v1.5h-1.5zM492.6,528.9h1.5v1.5h-1.5zM491.2,536.4h1.5v1.5h-1.5zM489.7,544.0h1.5v1.5h-1.5zM488.3,551.6h1.5v1.5h-1.5zM486.9,559.2h1.5v1.5h-1.5zM485.5,566.8h1.5v1.5h-1.5zM484.1,574.3h1.5v1.5h-1.5zM482.7,581.9h1.5v1.5h-1.5zM481.3,589.5h1.5v1.5h-1.5zM479.9,597.1h1.5v1.5h-1.5zM478.5,604.6h1.5v1.5h-1.5zM477.1,612.2h1.5v1.5h-1.5zM475.7,619.8h1.5v1.5h-1.5zM474.3,627.4h1.5v1.5h-1.5zM472.9,635.0h1.5v1.5h-1.5zM471.5,642.5h1.5v1.5h-1.5zM470.2,650.1h1.5v1.5h-1.5zM468.8,657.7h1.5v1.5h-1.5zM467.4,665.3h1.5v1.5h-1.5zM466.0,672.9h1.5v1.5h-1.5zM464.7,680.5h1.5v1.5h-1.5zM543.5,415.1h1.5v1.5h-1.5zM542.1,422.7h1.5v1.5h-1.5zM540.7,430.3h1.5v1.5h-1.5zM539.3,437.9h1.5v1.5h-1.5zM537.9,445.5h1.5v1.5h-1.5zM536.5,453.0h1.5v1.5h-1.5zM535.1,460.6h1.5v1.5h-1.5zM533.7,468.2h1.5v1.5h-1.5zM532.4,475.8h1.5v1.5h-1.5zM531.0,483.4h1.5v1.5h-1.5zM529.6,490.9h1.5v1.5h-1.5zM528.2,498.5h1.5v1.5h-1.5zM526.8,506.1h1.5v1.5h-1.5zM525.5,513.7h1.5v1.5h-1.5zM524.1,521.3h1.5v1.5h-1.5zM522.7,528.9h1.5v1.5h-1.5zM521.3,536.4h1.5v1.5h-1.5zM520.0,544.0h1.5v1.5h-1.5zM518.6,551.6h1.5v1.5h-1.5zM517.3,559.2h1.5v1.5h-1.5zM515.9,566.8h1.5v1.5h-1.5zM514.5,574.3h1.5v1.5h-1.5zM513.2,581.9h1.5v1.5h-1.5zM511.8,589.5h1.5v1.5h-1.5zM510.5,597.1h1.5v1.5h-1.5zM509.1,604.6h1.5v1.5h-1.5zM507.8,612.2h1.5v1.5h-1.5zM506.5,619.8h1.5v1.5h-1.5zM505.1,627.4h1.5v1.5h-1.5zM503.8,635.0h1.5v1.5h-1.5zM502.5,642.5h1.5v1.5h-1.5zM501.1,650.1h1.5v1.5h-1.5zM499.8,657.7h1.5v1.5h-1.5zM498.5,665.3h1.5v1.5h-1.5zM497.2,672.9h1.5v1.5h-1.5zM495.9,680.5h1.5v1.5h-1.5zM567.0,415.1h1.5v1.5h-1.5zM565.7,422.7h1.5v1.5h-1.5zM564.3,430.3h1.5v1.5h-1.5zM562.9,437.9h1.5v1.5h-1.5zM561.6,445.5h1.5v1.5h-1.5zM560.2,453.0h1.5v1.5h-1.5zM558.9,460.6h1.5v1.5h-1.5zM557.5,468.2h1.5v1.5h-1.5zM556.2,475.8h1.5v1.5h-1.5zM554.8,483.4h1.5v1.5h-1.5zM553.5,490.9h1.5v1.5h-1.5zM552.2,498.5h1.5v1.5h-1.5zM550.8,506.1h1.5v1.5h-1.5zM549.5,513.7h1.5v1.5h-1.5zM548.1,521.3h1.5v1.5h-1.5zM546.8,528.9h1.5v1.5h-1.5zM545.5,536.4h1.5v1.5h-1.5zM544.2,544.0h1.5v1.5h-1.5zM542.9,551.6h1.5v1.5h-1.5zM541.5,559.2h1.5v1.5h-1.5zM540.2,566.8h1.5v1.5h-1.5zM538.9,574.3h1.5v1.5h-1.5zM537.6,581.9h1.5v1.5h-1.5zM536.3,589.5h1.5v1.5h-1.5zM535.0,597.1h1.5v1.5h-1.5zM533.7,604.6h1.5v1.5h-1.5zM532.4,612.2h1.5v1.5h-1.5zM531.1,619.8h1.5v1.5h-1.5zM529.8,627.4h1.5v1.5h-1.5zM528.5,635.0h1.5v1.5h-1.5zM527.2,642.5h1.5v1.5h-1.5zM525.9,650.1h1.5v1.5h-1.5zM524.7,657.7h1.5v1.5h-1.5zM523.4,665.3h1.5v1.5h-1.5zM522.1,672.9h1.5v1.5h-1.5zM520.8,680.5h1.5v1.5h-1.5zM586.7,415.1h1.5v1.5h-1.5zM585.4,422.7h1.5v1.5h-1.5zM584.1,430.3h1.5v1.5h-1.5zM582.7,437.9h1.5v1.5h-1.5zM581.4,445.5h1.5v1.5h-1.5zM580.1,453.0h1.5v1.5h-1.5zM578.8,460.6h1.5v1.5h-1.5zM577.4,468.2h1.5v1.5h-1.5zM576.1,475.8h1.5v1.5h-1.5zM574.8,483.4h1.5v1.5h-1.5zM573.5,490.9h1.5v1.5h-1.5zM572.2,498.5h1.5v1.5h-1.5zM570.9,506.1h1.5v1.5h-1.5zM569.6,513.7h1.5v1.5h-1.5zM568.3,521.3h1.5v1.5h-1.5zM567.0,528.9h1.5v1.5h-1.5zM565.7,536.4h1.5v1.5h-1.5zM564.4,544.0h1.5v1.5h-1.5zM563.2,551.6h1.5v1.5h-1.5zM561.9,559.2h1.5v1.5h-1.5zM560.6,566.8h1.5v1.5h-1.5zM559.3,574.3h1.5v1.5h-1.5zM558.1,581.9h1.5v1.5h-1.5zM556.8,589.5h1.5v1.5h-1.5zM555.5,597.1h1.5v1.5h-1.5zM554.3,604.6h1.5v1.5h-1.5zM553.0,612.2h1.5v1.5h-1.5zM551.7,619.8h1.5v1.5h-1.5zM550.5,627.4h1.5v1.5h-1.5zM549.2,635.0h1.5v1.5h-1.5zM548.0,642.5h1.5v1.5h-1.5zM546.7,650.1h1.5v1.5h-1.5zM545.5,657.7h1.5v1.5h-1.5zM544.2,665.3h1.5v1.5h-1.5zM543.0,672.9h1.5v1.5h-1.5zM541.8,680.5h1.5v1.5h-1.5zM588.3,506.1h1.5v1.5h-1.5zM587.0,513.7h1.5v1.5h-1.5zM585.7,521.3h1.5v1.5h-1.5zM584.5,528.9h1.5v1.5h-1.5zM583.2,536.4h1.5v1.5h-1.5zM582.0,544.0h1.5v1.5h-1.5zM580.7,551.6h1.5v1.5h-1.5zM579.5,559.2h1.5v1.5h-1.5zM578.2,566.8h1.5v1.5h-1.5zM577.0,574.3h1.5v1.5h-1.5zM575.7,581.9h1.5v1.5h-1.5zM574.5,589.5h1.5v1.5h-1.5zM573.3,597.1h1.5v1.5h-1.5zM572.0,604.6h1.5v1.5h-1.5zM570.8,612.2h1.5v1.5h-1.5zM569.6,619.8h1.5v1.5h-1.5zM568.3,627.4h1.5v1.5h-1.5zM567.1,635.0h1.5v1.5h-1.5zM565.9,642.5h1.5v1.5h-1.5zM564.7,650.1h1.5v1.5h-1.5zM563.5,657.7h1.5v1.5h-1.5zM562.3,665.3h1.5v1.5h-1.5zM561.1,672.9h1.5v1.5h-1.5zM559.9,680.5h1.5v1.5h-1.5zM588.9,597.1h1.5v1.5h-1.5zM587.7,604.6h1.5v1.5h-1.5zM586.5,612.2h1.5v1.5h-1.5zM585.3,619.8h1.5v1.5h-1.5zM584.1,627.4h1.5v1.5h-1.5zM582.9,635.0h1.5v1.5h-1.5zM581.7,642.5h1.5v1.5h-1.5zM580.5,650.1h1.5v1.5h-1.5zM579.4,657.7h1.5v1.5h-1.5zM578.2,665.3h1.5v1.5h-1.5zM577.0,672.9h1.5v1.5h-1.5zM575.8,680.5h1.5v1.5h-1.5z" fill="#ff28a0"/>
</g>
<text x="281.1" y="410.6" font-size="12" fill="#ff28a0" letter-spacing="1.5">1</text>
<text x="334.6" y="410.6" font-size="12" fill="#ff28a0" letter-spacing="1.5">2</text>
<text x="367.7" y="410.6" font-size="12" fill="#ff28a0" letter-spacing="1.5">3</text>
<text x="392.2" y="410.6" font-size="12" fill="#ff28a0" letter-spacing="1.5">4</text>
<text x="427.9" y="410.6" font-size="12" fill="#ff28a0" letter-spacing="1.5">6</text>
<text x="454.3" y="410.6" font-size="12" fill="#ff28a0" letter-spacing="1.5">8</text>
<text x="475.4" y="410.6" font-size="12" fill="#ff28a0" letter-spacing="1.5">10</text>
<text x="515.1" y="410.6" font-size="12" fill="#ff28a0" letter-spacing="1.5">15</text>
<text x="544.5" y="410.6" font-size="12" fill="#ff28a0" letter-spacing="1.5">20</text>
<text x="568.0" y="410.6" font-size="12" fill="#ff28a0" letter-spacing="1.5">25</text>
<line x1="64.2" x2="591.2" y1="125.7" y2="125.7" stroke="#000" stroke-width="1.9"/>
<line x1="58.5" x2="64.2" y1="125.7" y2="125.7" stroke="#000" stroke-width="1.3"/>
<line x1="64.2" x2="591.2" y1="197.4" y2="197.4" stroke="#000" stroke-width="1.9"/>
<line x1="58.5" x2="64.2" y1="197.4" y2="197.4" stroke="#000" stroke-width="1.3"/>
<line x1="64.2" x2="591.2" y1="260.6" y2="260.6" stroke="#000" stroke-width="1.9"/>
<line x1="58.5" x2="64.2" y1="260.6" y2="260.6" stroke="#000" stroke-width="1.3"/>
<line x1="64.2" x2="591.2" y1="317.1" y2="317.1" stroke="#000" stroke-width="1.9"/>
<line x1="58.5" x2="64.2" y1="317.1" y2="317.1" stroke="#000" stroke-width="1.3"/>
<line x1="64.2" x2="591.2" y1="368.2" y2="368.2" stroke="#000" stroke-width="1.9"/>
<line x1="58.5" x2="64.2" y1="368.2" y2="368.2" stroke="#000" stroke-width="1.3"/>
<line x1="64.2" x2="591.2" y1="414.9" y2="414.9" stroke="#000" stroke-width="1.9"/>
<line x1="58.5" x2="64.2" y1="414.9" y2="414.9" stroke="#000" stroke-width="1.3"/>
<line x1="64.2" x2="591.2" y1="457.9" y2="457.9" stroke="#000" stroke-width="1.9"/>
<line x1="58.5" x2="64.2" y1="457.9" y2="457.9" stroke="#000" stroke-width="1.3"/>
<line x1="64.2" x2="591.2" y1="497.6" y2="497.6" stroke="#000" stroke-width="1.9"/>
<line x1="58.5" x2="64.2" y1="497.6" y2="497.6" stroke="#000" stroke-width="1.3"/>
<line x1="64.2" x2="591.2" y1="534.6" y2="534.6" stroke="#000" stroke-width="1.9"/>
<line x1="58.5" x2="64.2" y1="534.6" y2="534.6" stroke="#000" stroke-width="1.3"/>
<line x1="64.2" x2="591.2" y1="569.3" y2="569.3" stroke="#000" stroke-width="1.9"/>
<line x1="58.5" x2="64.2" y1="569.3" y2="569.3" stroke="#000" stroke-width="1.3"/>
<line x1="64.2" x2="591.2" y1="601.8" y2="601.8" stroke="#000" stroke-width="1.9"/>
<line x1="58.5" x2="64.2" y1="601.8" y2="601.8" stroke="#000" stroke-width="1.3"/>
<line x1="64.2" x2="591.2" y1="632.5" y2="632.5" stroke="#000" stroke-width="1.9"/>
<line x1="58.5" x2="64.2" y1="632.5" y2="632.5" stroke="#000" stroke-width="1.3"/>
<line x1="64.2" x2="591.2" y1="661.5" y2="661.5" stroke="#000" stroke-width="1.9"/>
<line x1="58.5" x2="64.2" y1="661.5" y2="661.5" stroke="#000" stroke-width="1.3"/>
<g clip-path="url(#cp)">
<polyline points="172.7,58.9 196.7,125.7 224.9,197.4 248.6,260.6 270.8,317.1 289.7,368.2 305.4,414.9 319.5,457.9 331.4,497.6 340.2,534.6 349.3,569.3 358.0,601.8 362.4,625.0 366.6,632.5 383.6,661.5 397.0,683.0" fill="none" stroke="#aaaaaa" stroke-width="2.2" stroke-linejoin="round"/>
<polyline points="235.8,43.0 246.6,125.7 267.6,197.4 291.0,260.6 306.9,317.1 317.5,368.2 331.4,414.9 345.2,457.9 350.3,497.6 337.7,534.6 343.8,569.3 354.0,601.8 364.0,632.5 380.0,661.5 395.6,688.0 402.0,689.6" fill="none" stroke="#f03c3c" stroke-width="2.4" stroke-linejoin="round"/>
<polyline points="206.0,43.0 236.3,125.7 213.0,197.4 221.6,260.6 219.9,317.1 230.0,368.2 214.0,414.9 207.2,457.9 217.3,497.6 272.1,534.6 298.4,569.3 324.0,601.8 345.0,632.5 342.4,661.5 341.0,688.0 350.0,689.6" fill="none" stroke="#2846f0" stroke-width="2.4" stroke-linejoin="round"/>
</g>
<rect x="386.2" y="46.5" width="205.0" height="95.6" fill="#fff"/>
<path d="M386.2,43 V137.8 H591.2" fill="none" stroke="#000" stroke-width="1.6"/>
<line x1="390" x2="410" y1="52.4" y2="52.4" stroke="#f03c3c" stroke-width="2.6" stroke-linecap="round"/>
<text x="419" y="57.6" font-size="14.6" textLength="104" fill="#111">Temperature</text>
<line x1="390" x2="410" y1="65.4" y2="65.4" stroke="#2846f0" stroke-width="2.6" stroke-linecap="round"/>
<text x="419" y="70.6" font-size="14.6" textLength="74" fill="#111">Dewpoint</text>
<line x1="390" x2="410" y1="78.4" y2="78.4" stroke="#aaaaaa" stroke-width="2.6" stroke-linecap="round"/>
<text x="419" y="83.6" font-size="14.6" textLength="145" fill="#111">Parcel Trajectory</text>
<line x1="390" x2="410" y1="91.4" y2="91.4" stroke="#f08228" stroke-width="1.1" stroke-linecap="round"/>
<text x="419" y="96.6" font-size="14.6" textLength="98" fill="#111">Dry Adiabat</text>
<line x1="390" x2="410" y1="104.4" y2="104.4" stroke="#16d616" stroke-width="1.1" stroke-linecap="round"/>
<text x="419" y="109.6" font-size="14.6" textLength="100.6" fill="#111">Wet Adiabat</text>
<line x1="390" x2="410" y1="117.4" y2="117.4" stroke="#28aaff" stroke-width="1.1" stroke-linecap="round"/>
<text x="419" y="122.6" font-size="14.6" textLength="72.3" fill="#111">Isotherm</text>
<rect x="390.4" y="129.6" width="1.7" height="1.7" fill="#ff28a0"/>
<rect x="398.7" y="129.6" width="1.7" height="1.7" fill="#ff28a0"/>
<rect x="407.0" y="129.6" width="1.7" height="1.7" fill="#ff28a0"/>
<text x="419" y="135.6" font-size="14.6" textLength="103.2" fill="#111">Mixing Ratio</text>
<line x1="64.2" x2="64.2" y1="42" y2="690.5" stroke="#000" stroke-width="2.2"/>
<line x1="591.2" x2="591.2" y1="42" y2="690.5" stroke="#000" stroke-width="2"/>
<line x1="63.1" x2="592.2" y1="43" y2="43" stroke="#000" stroke-width="2"/>
<line x1="63.1" x2="592.2" y1="689.2" y2="689.2" stroke="#000" stroke-width="3"/>
<line x1="58.5" x2="64.2" y1="43" y2="43" stroke="#000" stroke-width="1.3"/>
<line x1="58.5" x2="64.2" y1="688.9" y2="688.9" stroke="#000" stroke-width="1.3"/>
<text transform="translate(53.8,48.6) scale(0.955,1)" font-size="16.1" text-anchor="end" fill="#000">300</text>
<text transform="translate(53.8,131.3) scale(0.955,1)" font-size="16.1" text-anchor="end" fill="#000">350</text>
<text transform="translate(53.8,203.0) scale(0.955,1)" font-size="16.1" text-anchor="end" fill="#000">400</text>
<text transform="translate(53.8,266.2) scale(0.955,1)" font-size="16.1" text-anchor="end" fill="#000">450</text>
<text transform="translate(53.8,322.7) scale(0.955,1)" font-size="16.1" text-anchor="end" fill="#000">500</text>
<text transform="translate(53.8,373.8) scale(0.955,1)" font-size="16.1" text-anchor="end" fill="#000">550</text>
<text transform="translate(53.8,420.5) scale(0.955,1)" font-size="16.1" text-anchor="end" fill="#000">600</text>
<text transform="translate(53.8,463.5) scale(0.955,1)" font-size="16.1" text-anchor="end" fill="#000">650</text>
<text transform="translate(53.8,503.2) scale(0.955,1)" font-size="16.1" text-anchor="end" fill="#000">700</text>
<text transform="translate(53.8,540.2) scale(0.955,1)" font-size="16.1" text-anchor="end" fill="#000">750</text>
<text transform="translate(53.8,574.9) scale(0.955,1)" font-size="16.1" text-anchor="end" fill="#000">800</text>
<text transform="translate(53.8,607.4) scale(0.955,1)" font-size="16.1" text-anchor="end" fill="#000">850</text>
<text transform="translate(53.8,638.1) scale(0.955,1)" font-size="16.1" text-anchor="end" fill="#000">900</text>
<text transform="translate(53.8,667.1) scale(0.955,1)" font-size="16.1" text-anchor="end" fill="#000">950</text>
<text transform="translate(53.8,694.6) scale(0.955,1)" font-size="16.1" text-anchor="end" fill="#000">1000</text>
<text transform="translate(108.2,708.6) scale(1.15,1)" font-size="15.2" textLength="29.4" fill="#222" >−30</text>
<text transform="translate(174.0,708.6) scale(1.15,1)" font-size="15.2" textLength="29.4" fill="#222" >−20</text>
<text transform="translate(239.9,708.6) scale(1.15,1)" font-size="15.2" textLength="29.4" fill="#222" >−10</text>
<text transform="translate(317.9,708.6) scale(1.15,1)" font-size="15.2" textLength="8.3" fill="#222" >0</text>
<text transform="translate(378.3,708.6) scale(1.15,1)" font-size="15.2" textLength="17.8" fill="#222" >10</text>
<text transform="translate(444.2,708.6) scale(1.15,1)" font-size="15.2" textLength="17.8" fill="#222" >20</text>
<text transform="translate(510.1,708.6) scale(1.15,1)" font-size="15.2" textLength="17.8" fill="#222" >30</text>
<text transform="translate(576.0,708.6) scale(1.15,1)" font-size="15.2" textLength="17.8" fill="#222" >40</text>
<text transform="translate(184.7,726.5) scale(1.0,1)" font-size="17" textLength="92.0" fill="#222" >Dewpoint</text>
<line x1="291.5" y1="730.2" x2="304.3" y2="713" stroke="#222" stroke-width="1.3"/>
<text transform="translate(316.3,726.5) scale(1.0,1)" font-size="17" textLength="130.0" fill="#222" >Temperature</text>
<text transform="translate(462.3,726.5) scale(1.0,1)" font-size="17" textLength="5.5" fill="#222" >(</text>
<circle cx="474.5" cy="717.8" r="2.3" fill="none" stroke="#111" stroke-width="1.5"/>
<text transform="translate(481.5,726.5) scale(1.0,1)" font-size="17" textLength="20.3" fill="#222" >C)</text>
<text x="30.2" y="18.6" font-size="14.6" textLength="31" fill="#222">hPa</text>
<text transform="translate(93.0,27.8) scale(1.12,1)" font-size="16.5" textLength="73.2" fill="#111" stroke="#111" stroke-width="0.3">43°37’N</text>
<text transform="translate(190.6,27.8) scale(1.12,1)" font-size="16.5" textLength="72.0" fill="#111" stroke="#111" stroke-width="0.3">13°22’E</text>
<text transform="translate(287.2,27.8) scale(1.12,1)" font-size="16.5" textLength="50.4" fill="#111" stroke="#111" stroke-width="0.3">119m</text>
<text transform="translate(358.6,27.8) scale(1.05,1)" font-size="16.5" textLength="35.6" fill="#111" stroke="#111" stroke-width="0.3">ASL</text>
<text x="596.8" y="18.9" font-size="15" textLength="23.5" fill="#222">km</text>
<text x="596" y="40.2" font-size="15" textLength="29.5" fill="#222">ASL</text>
<text x="876" y="28.3" font-size="17.6" textLength="115" fill="none" stroke="#ddd" stroke-width="0.5">(Basis: 06)</text>
<text transform="translate(651.9,28.3) scale(1.12,1)" font-size="17.5" textLength="107.7" fill="#111" stroke="#111" stroke-width="0.45">20.03.2026</text>
<text transform="translate(789.4,28.3) scale(1.08,1)" font-size="17.5" textLength="61.0" fill="#111" stroke="#111" stroke-width="0.45">12GMT</text>
<text transform="translate(870.4,28.3) scale(1.05,1)" font-size="17.5" textLength="66.9" fill="#111" stroke="#111" stroke-width="0.45">(Base:</text>
<text transform="translate(950.3,28.3) scale(1.12,1)" font-size="17.5" textLength="30.9" fill="#111" stroke="#111" stroke-width="0.45">06)</text>
<line x1="591.2" x2="596.2" y1="126.4" y2="126.4" stroke="#333" stroke-width="1.1"/>
<text transform="translate(600.5,132.2) scale(1.15,1)" font-size="15.6" textLength="8.3" fill="#222" >8</text>
<line x1="591.2" x2="596.2" y1="205.1" y2="205.1" stroke="#333" stroke-width="1.1"/>
<text transform="translate(600.5,210.9) scale(1.15,1)" font-size="15.6" textLength="8.3" fill="#222" >7</text>
<line x1="591.2" x2="596.2" y1="281.5" y2="281.5" stroke="#333" stroke-width="1.1"/>
<text transform="translate(600.5,287.3) scale(1.15,1)" font-size="15.6" textLength="8.3" fill="#222" >6</text>
<line x1="591.2" x2="596.2" y1="355.1" y2="355.1" stroke="#333" stroke-width="1.1"/>
<text transform="translate(600.5,360.9) scale(1.15,1)" font-size="15.6" textLength="8.3" fill="#222" >5</text>
<line x1="591.2" x2="596.2" y1="426.6" y2="426.6" stroke="#333" stroke-width="1.1"/>
<text transform="translate(600.5,432.4) scale(1.15,1)" font-size="15.6" textLength="8.3" fill="#222" >4</text>
<line x1="591.2" x2="596.2" y1="496.4" y2="496.4" stroke="#333" stroke-width="1.1"/>
<text transform="translate(600.5,502.2) scale(1.15,1)" font-size="15.6" textLength="8.3" fill="#222" >3</text>
<line x1="591.2" x2="596.2" y1="565.0" y2="565.0" stroke="#333" stroke-width="1.1"/>
<text transform="translate(600.5,570.8) scale(1.15,1)" font-size="15.6" textLength="8.3" fill="#222" >2</text>
<line x1="591.2" x2="596.2" y1="632.2" y2="632.2" stroke="#333" stroke-width="1.1"/>
<text transform="translate(600.5,638.0) scale(1.15,1)" font-size="15.6" textLength="8.3" fill="#222" >1</text>
<line x1="591.2" x2="600" y1="626.1" y2="626.1" stroke="#333" stroke-width="1.1"/>
<text x="614" y="631.7" font-size="15" textLength="31" fill="#d0d0d0">HKN</text>
<text x="610" y="631.7" font-size="15" textLength="29" fill="#555">LCL</text>
<text transform="translate(629.3,538) rotate(-90)" font-size="16" textLength="230" fill="#f8bcd8" stroke="#f8bcd8" stroke-width="0.3">Mischungsverhältnis (g/kg)</text>
<text transform="translate(629.3,506.5) rotate(-90)" font-size="15.8" textLength="50.8" fill="#111">Mixing</text>
<text transform="translate(629.3,444.2) rotate(-90)" font-size="15.8" textLength="39.4" fill="#111">Ratio</text>
<text transform="translate(629.3,394.3) rotate(-90)" font-size="15.8" textLength="17.3" fill="#111">(g</text>
<text transform="translate(629.3,362.5) rotate(-90)" font-size="15.8" textLength="24.4" fill="#111">kg)</text>
<line x1="616.2" y1="374.4" x2="631.8" y2="363.8" stroke="#111" stroke-width="1.3"/>
<line x1="681.9" x2="681.9" y1="43" y2="689" stroke="#444" stroke-width="1.5"/>
<rect x="679.8" y="41.0" width="4.2" height="4.4" fill="#8a10f0"/>
<path d="M681.8,43.2 L707.8,27.6 M708.3,27.5 L716,37.6 M705,29.3 L712.6,39.4 M701,31.4 L708.6,41.6 M697.1,33.6 L704.8,44.6" fill="none" stroke="#8a10f0" stroke-width="1.2"/>
<rect x="679.8" y="195.2" width="4.2" height="4.4" fill="#18c4cc"/>
<path d="M681.8,197.4 L698,171.2 M698,171.2 L709.8,178 M695.8,174.7 L707.8,181.7 M693.4,178.5 L699.3,182.1" fill="none" stroke="#18c4cc" stroke-width="1.2"/>
<rect x="679.8" y="314.7" width="4.2" height="4.4" fill="#18d890"/>
<path d="M681.8,316.9 L706.7,298 M706.7,298 L715.7,308.9 M703.7,300.4 L711.9,311.7" fill="none" stroke="#18d890" stroke-width="1.2"/>
<rect x="679.8" y="495.3" width="4.2" height="4.4" fill="#18c4d4"/>
<path d="M681.8,497.5 L706.4,478.3 M706.4,478.3 L715.7,488.9 M703.4,480.7 L711.9,491.6 M700.3,483.2 L703.7,488.9" fill="none" stroke="#18c4d4" stroke-width="1.2"/>
<rect x="680.0" y="599.2" width="4.2" height="4.4" fill="#8ee432"/>
<path d="M682,601.4 L702.4,578.7 M702.4,578.7 L713.1,587.7" fill="none" stroke="#8ee432" stroke-width="1.2"/>
<rect x="680.0" y="630.0" width="4.2" height="4.4" fill="#e8d830"/>
<path d="M682,632.2 L698.6,606.4 M696.7,609.6 L701.6,613.1" fill="none" stroke="#e8d830" stroke-width="1.2"/>
<rect x="680.0" y="644.7" width="4.2" height="4.4" fill="#e8d830"/>
<path d="M682,646.9 L696.3,620.1 M694.4,623.4 L700.1,626.8" fill="none" stroke="#e8d830" stroke-width="1.2"/>
<rect x="680.0" y="687.1" width="4.2" height="4.4" fill="#e8d826"/>
<path d="M682,689.3 L687.4,660.2 M682,689.3 L690.1,659.2 M682,689.3 L688.8,659.6 M688.1,664 L695.6,665.2 M688.6,663.2 L694.5,665.6" fill="none" stroke="#e8d826" stroke-width="1.2"/>
<defs><clipPath id="hc"><rect x="727" y="43" width="182" height="172.4"/></clipPath></defs>
<g clip-path="url(#hc)">
<ellipse cx="818.2" cy="129.4" rx="30.4" ry="28.7" fill="none" stroke="#999" stroke-width="1"/>
<ellipse cx="818.2" cy="129.4" rx="60.7" ry="57.4" fill="none" stroke="#999" stroke-width="1"/>
<ellipse cx="818.2" cy="129.4" rx="91.1" ry="86.2" fill="none" stroke="#999" stroke-width="1"/>
</g>
<line x1="727" x2="909" y1="129.4" y2="129.4" stroke="#111" stroke-width="1.4"/>
<line x1="818.2" x2="818.2" y1="43" y2="215.4" stroke="#111" stroke-width="1.4"/>
<path d="M737.0,127.0 V131.8 M815.8000000000001,52.7 H820.6 M747.2,127.0 V131.8 M815.8000000000001,62.3 H820.6 M757.3,127.0 V131.8 M815.8000000000001,71.9 H820.6 M767.5,127.0 V131.8 M815.8000000000001,81.5 H820.6 M777.6,127.0 V131.8 M815.8000000000001,91.0 H820.6 M787.8,127.0 V131.8 M815.8000000000001,100.6 H820.6 M797.9,127.0 V131.8 M815.8000000000001,110.2 H820.6 M808.1,127.0 V131.8 M815.8000000000001,119.8 H820.6 M828.4,127.0 V131.8 M815.8000000000001,139.0 H820.6 M838.5,127.0 V131.8 M815.8000000000001,148.6 H820.6 M848.7,127.0 V131.8 M815.8000000000001,158.2 H820.6 M858.8,127.0 V131.8 M815.8000000000001,167.8 H820.6 M869.0,127.0 V131.8 M815.8000000000001,177.4 H820.6 M879.1,127.0 V131.8 M815.8000000000001,186.9 H820.6 M889.2,127.0 V131.8 M815.8000000000001,196.5 H820.6 M899.4,127.0 V131.8 M815.8000000000001,206.1 H820.6 " stroke="#111" stroke-width="1.3" fill="none"/>
<text transform="translate(799.2,145.6) rotate(-45)" font-size="12.5" text-anchor="middle" dominant-baseline="central" fill="#aaa" letter-spacing="0.8">15</text>
<text transform="translate(775.3,169.2) rotate(-45)" font-size="12.5" text-anchor="middle" dominant-baseline="central" fill="#aaa" letter-spacing="0.8">30</text>
<text transform="translate(754.3,190.3) rotate(-45)" font-size="12.5" text-anchor="middle" dominant-baseline="central" fill="#aaa" letter-spacing="0.8">45</text>
<rect x="726.9" y="42.9" width="182.2" height="172.5" fill="none" stroke="#000" stroke-width="2"/>
<text x="732.7" y="56.8" font-size="12" textLength="12.2" fill="#222">kt</text>
<path d="M818.2,129.4 L792,134.9" stroke="#000" stroke-width="1.5" fill="none"/>
<path d="M790.1,135.3 L797.7,130.1 L798.7,137.7 Z" fill="#000"/>
<path d="M816.3,138.2 L782.9,156.3 M781.9,154.6 L784,158 M782.9,156.3 L793.9,168.1" stroke="#000" stroke-width="1.5" fill="none"/>
<rect x="791.9" y="166.1" width="4" height="4" fill="#000"/>
<path d="M814.3,139.6 L816.3,136.4 L818.3,139.6 Z" fill="#000"/>
<rect x="727.5" y="232.7" width="200.2" height="469.7" fill="none" stroke="#222" stroke-width="1.3"/>
<line x1="727.5" x2="927.7" y1="301.6" y2="301.6" stroke="#222" stroke-width="1.3"/>
<line x1="727.5" x2="927.7" y1="456.6" y2="456.6" stroke="#222" stroke-width="1.3"/>
<line x1="727.5" x2="927.7" y1="590.7" y2="590.7" stroke="#222" stroke-width="1.3"/>
<text x="732.8" y="251.4" font-size="14.7" textLength="9" fill="#222">K</text>
<text transform="translate(874.5,251.4) scale(1.15,1)" font-size="14.7" textLength="17.8" fill="#222" >−2</text>
<text x="732.8" y="272.9" font-size="14.7" textLength="111.5" fill="#222">Totals Totals</text>
<text transform="translate(874.0,272.9) scale(1.15,1)" font-size="14.7" textLength="18.3" fill="#222" >42</text>
<text x="732.8" y="294.0" font-size="14.7" textLength="77" fill="#222">PW (cm)</text>
<text transform="translate(874.0,294.0) scale(1.15,1)" font-size="14.7" textLength="32.5" fill="#222" >0.93</text>
<text x="787.1" y="320.6" font-size="14.7" textLength="66" fill="#222">Surface</text>
<text x="732.8" y="341.8" font-size="14.7" textLength="63.4" fill="#222">Temp (</text>
<text transform="translate(876.0,341.8) scale(1.15,1)" font-size="14.7" textLength="30.4" fill="#222" >11.3</text>
<circle cx="801.1" cy="333.2" r="2.1" fill="none" stroke="#111" stroke-width="1.5"/>
<text transform="translate(806.6,341.8) scale(1.0,1)" font-size="14.7" textLength="16.7" fill="#222" >C)</text>
<text x="732.8" y="363.6" font-size="14.7" textLength="61.5" fill="#222">Dewp (</text>
<text transform="translate(874.0,363.6) scale(1.15,1)" font-size="14.7" textLength="23.0" fill="#222" >3.4</text>
<circle cx="799.4" cy="354.7" r="2.1" fill="none" stroke="#111" stroke-width="1.5"/>
<text transform="translate(804.7,363.6) scale(1.0,1)" font-size="14.7" textLength="16.9" fill="#222" >C)</text>
<text x="732.5" y="385.2" font-size="15.8" font-style="italic" font-weight="bold" fill="#222">θ</text>
<text x="742.3" y="386.7" font-size="7" font-weight="bold" fill="#111">E</text>
<text x="748.6" y="385.2" font-size="14.7" textLength="25.3" fill="#222">(K)</text>
<text transform="translate(874.0,385.2) scale(1.15,1)" font-size="14.7" textLength="27.8" fill="#222" >298</text>
<text x="732.8" y="406.6" font-size="14.7" textLength="103.2" fill="#222">Lifted Index</text>
<text transform="translate(874.0,406.6) scale(1.15,1)" font-size="14.7" textLength="7.8" fill="#222" >6</text>
<text x="732.8" y="428.2" font-size="14.7" textLength="77.4" fill="#222">CAPE (J)</text>
<text transform="translate(874.0,428.2) scale(1.15,1)" font-size="14.7" textLength="18.3" fill="#222" >45</text>
<text x="732.8" y="449.5" font-size="14.7" textLength="62" fill="#222">CIN (J)</text>
<text transform="translate(874.0,449.5) scale(1.15,1)" font-size="14.7" textLength="8.3" fill="#222" >0</text>
<text x="753.4" y="475.6" font-size="14.7" textLength="125" fill="#222">Most Unstable</text>
<text x="732.8" y="496.9" font-size="14.7" textLength="129.1" fill="#222">Pressure (mb)</text>
<text transform="translate(876.0,496.9) scale(1.15,1)" font-size="14.7" textLength="35.7" fill="#222" >1002</text>
<text x="732.5" y="518.5" font-size="15.8" font-style="italic" font-weight="bold" fill="#222">θ</text>
<text x="742.3" y="520.0" font-size="7" font-weight="bold" fill="#111">E</text>
<text x="758.5" y="518.5" font-size="14.7" textLength="26" fill="#222">(K)</text>
<text transform="translate(874.0,518.5) scale(1.15,1)" font-size="14.7" textLength="27.8" fill="#222" >298</text>
<text x="732.8" y="539.8" font-size="14.7" textLength="103.2" fill="#222">Lifted Index</text>
<text transform="translate(874.0,539.8) scale(1.15,1)" font-size="14.7" textLength="7.8" fill="#222" >6</text>
<text x="732.8" y="561.4" font-size="14.7" textLength="77.4" fill="#222">CAPE (J)</text>
<text transform="translate(874.0,561.4) scale(1.15,1)" font-size="14.7" textLength="18.3" fill="#222" >45</text>
<text x="732.8" y="582.8" font-size="14.7" textLength="62" fill="#222">CIN (J)</text>
<text transform="translate(874.0,582.8) scale(1.15,1)" font-size="14.7" textLength="8.3" fill="#222" >0</text>
<text x="771.5" y="608.8" font-size="14.7" textLength="93.6" fill="#222">Hodograph</text>
<text x="732.8" y="630.4" font-size="14.7" textLength="21.3" fill="#222">EH</text>
<text transform="translate(876.3,630.4) scale(1.15,1)" font-size="14.7" textLength="15.8" fill="#222" >14</text>
<text x="732.8" y="652.2" font-size="14.7" textLength="44.7" fill="#222">SREH</text>
<text transform="translate(874.2,652.2) scale(1.15,1)" font-size="14.7" textLength="17.7" fill="#222" >35</text>
<text x="732.8" y="673.9" font-size="14.7" textLength="56.9" fill="#222">StmDir</text>
<text transform="translate(874.2,673.9) scale(1.15,1)" font-size="14.7" textLength="17.0" fill="#222" >76</text>
<circle cx="899.7" cy="665.2" r="2.0" fill="none" stroke="#111" stroke-width="1.5"/>
<text x="732.8" y="695.4" font-size="14.7" textLength="108.9" fill="#222">StmSpd (kt)</text>
<text transform="translate(876.3,695.4) scale(1.15,1)" font-size="14.7" textLength="15.8" fill="#222" >13</text>
<text x="738" y="727" font-size="19" textLength="150" fill="none" stroke="#ccc" stroke-width="0.7">Wetteronline</text>
<circle cx="723.4" cy="721.5" r="7.6" fill="none" stroke="#111" stroke-width="1.5"/>
<path d="M726.6,719.3 A3.8,3.8 0 1 0 726.6,723.7" fill="none" stroke="#111" stroke-width="1.5"/>
<text transform="translate(738.6,727.1) scale(1.1,1)" font-size="18.2" textLength="192.9" fill="#111" stroke="#111" stroke-width="0.45">weatheronline.co.uk</text>
</svg>
</body></html>
